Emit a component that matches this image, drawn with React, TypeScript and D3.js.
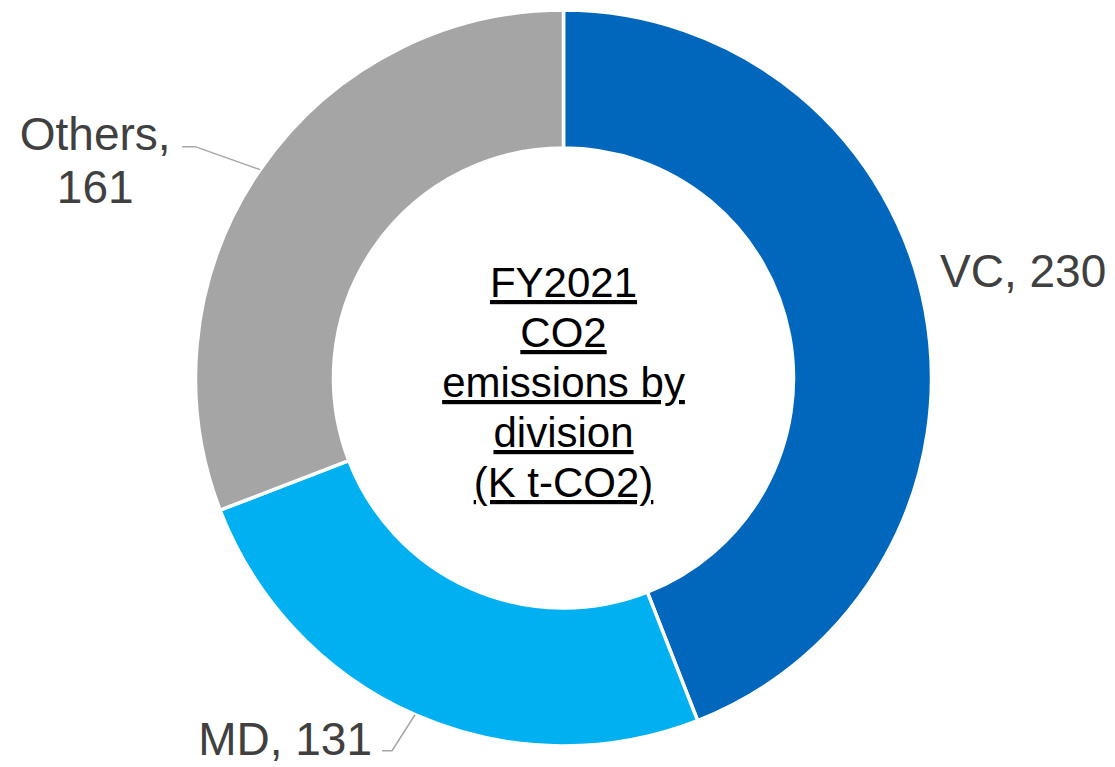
import React, { useEffect, useRef } from "react";
import * as d3 from "d3";

const categories = ["VC", "MD", "Others"];
const values = [230, 131, 161];
const colors = ["#0067BD", "#00B0F0", "#A5A5A5"];
const centerLines = ["FY2021", "CO2", "emissions by", "division", "(K t-CO2)"];

const width = 1115;
const height = 767;
const cx = 563.5;
const cy = 378;
const outerR = 368;
const innerR = 230;

// label layout per slice: leader elbow/end offsets from the outer mid point, text offset
const labelLayout: Record<string, { elbow?: [number, number]; end?: [number, number]; text: [number, number]; anchor: string; lines: boolean }> = {
  VC: { text: [0, 0], anchor: "start", lines: false },
  MD: { elbow: [-23, 36], end: [-33, 36], text: [-43, 40], anchor: "end", lines: false },
  Others: { elbow: [-65, -23], end: [-78, -23], text: [-165, -20], anchor: "middle", lines: true },
};

export default function App() {
  const svgRef = useRef<SVGSVGElement | null>(null);

  useEffect(() => {
    const svg = d3.select(svgRef.current);
    svg.selectAll("*").remove();
    svg.attr("width", width).attr("height", height).style("display", "block");

    const g = svg.append("g").attr("transform", `translate(${cx},${cy})`);

    const pie = d3
      .pie<number>()
      .sort(null)
      .value((d) => d);
    const arcs = pie(values);

    const arc = d3.arc<d3.PieArcDatum<number>>().innerRadius(innerR).outerRadius(outerR);
    const edge = d3.arc<d3.PieArcDatum<number>>().innerRadius(outerR).outerRadius(outerR);

    g.selectAll("path.slice")
      .data(arcs)
      .enter()
      .append("path")
      .attr("class", "slice")
      .attr("d", arc)
      .attr("fill", (_, i) => colors[i])
      .attr("stroke", "#ffffff")
      .attr("stroke-width", 3.5);

    arcs.forEach((a, i) => {
      const name = categories[i];
      const lay = labelLayout[name];
      const [px, py] = edge.centroid(a);
      const font = "Liberation Sans, Arial, sans-serif";
      if (lay.elbow && lay.end) {
        g.append("path")
          .attr(
            "d",
            d3.line()([
              [px, py],
              [px + lay.elbow[0], py + lay.elbow[1]],
              [px + lay.end[0], py + lay.end[1]],
            ])
          )
          .attr("fill", "none")
          .attr("stroke", "#A6A6A6")
          .attr("stroke-width", 1.5);
      }
      let tx: number, ty: number;
      if (name === "VC") {
        tx = 940 - cx;
        ty = 287 - cy;
      } else {
        tx = px + lay.text[0];
        ty = py + lay.text[1];
      }
      const t = g
        .append("text")
        .attr("x", tx)
        .attr("y", ty)
        .attr("text-anchor", lay.anchor)
        .attr("font-family", font)
        .attr("font-size", 46)
        .attr("fill", "#404040");
      if (lay.lines) {
        t.append("tspan").attr("x", tx).text(`${name},`);
        t.append("tspan").attr("x", tx).attr("dy", 53).text(values[i]);
      } else {
        t.text(`${name}, ${values[i]}`);
      }
    });

    const ct = g
      .append("text")
      .attr("text-anchor", "middle")
      .attr("font-family", "Liberation Sans, Arial, sans-serif")
      .attr("font-size", 42)
      .attr("fill", "#000000")
      .style("text-decoration", "underline");
    centerLines.forEach((line, i) => {
      ct.append("tspan")
        .attr("x", 0)
        .attr("y", 297 - cy + i * 50)
        .text(line);
    });
  }, []);

  return <svg ref={svgRef} style={{ position: "absolute", left: 0, top: 0 }}></svg>;
}
